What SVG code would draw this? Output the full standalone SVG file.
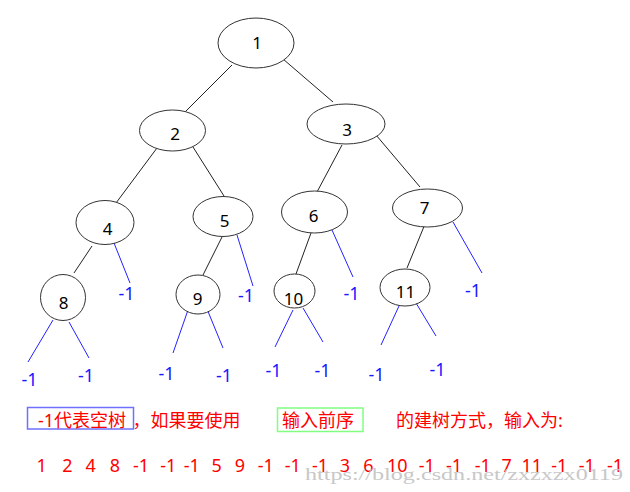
<svg xmlns="http://www.w3.org/2000/svg" width="630" height="492" viewBox="0 0 630 492">
<style>
.n ellipse{fill:#fff;stroke:#333;stroke-width:1}
.n text{font-family:"Noto Sans","DejaVu Sans",sans-serif;font-size:17px;fill:#000;text-anchor:middle}
.e line{stroke:#222;stroke-width:1}
.e line.b{stroke:#2222ff}
.nil{font-family:"Noto Sans","DejaVu Sans",sans-serif;font-size:18px;fill:#1a1aff;text-anchor:middle}
.red{font-family:"Noto Sans","Noto Sans CJK SC",sans-serif;font-size:18px;fill:#ff0000}
.seq{font-family:"Noto Sans","DejaVu Sans",sans-serif;font-size:18px;fill:#ff0000;text-anchor:middle}
.wm{font-family:"Liberation Serif",serif;font-size:17px;fill:#c8c8c8}
</style>
<rect width="630" height="492" fill="#fff"/>
<g id="connectors" class="e">
<line x1="232" y1="65" x2="185" y2="112"/>
<line x1="283" y1="59" x2="333" y2="102"/>
<line x1="157" y1="148" x2="116" y2="203"/>
<line x1="193" y1="147" x2="224" y2="196"/>
<line x1="342" y1="145" x2="317" y2="192"/>
<line x1="376" y1="135" x2="420" y2="187"/>
<line x1="92" y1="246" x2="74" y2="273"/>
<line class="b" x1="114" y1="243" x2="130" y2="283"/>
<line x1="222" y1="237" x2="203" y2="275"/>
<line class="b" x1="237" y1="235" x2="253" y2="286"/>
<line x1="311" y1="233" x2="296" y2="274"/>
<line class="b" x1="332" y1="230" x2="353" y2="277"/>
<line x1="425" y1="224" x2="407" y2="268"/>
<line class="b" x1="453" y1="222" x2="482" y2="273"/>
<line class="b" x1="53" y1="320" x2="28" y2="362"/>
<line class="b" x1="69" y1="322" x2="89" y2="358"/>
<line class="b" x1="188" y1="310" x2="173" y2="353"/>
<line class="b" x1="207" y1="309" x2="223" y2="348"/>
<line class="b" x1="293" y1="310" x2="275" y2="347"/>
<line class="b" x1="303" y1="308" x2="323" y2="342"/>
<line class="b" x1="399" y1="306" x2="381" y2="345"/>
<line class="b" x1="416" y1="303" x2="436" y2="336"/>
</g>
<g id="node1" class="n"><ellipse cx="256" cy="43" rx="38" ry="25"/><text x="257" y="48.5">1</text></g>
<g id="node2" class="n"><ellipse cx="172.5" cy="130.5" rx="33" ry="20.5"/><text x="175" y="140">2</text></g>
<g id="node3" class="n"><ellipse cx="346" cy="124" rx="39" ry="20"/><text x="347" y="136">3</text></g>
<g id="node4" class="n"><ellipse cx="105" cy="222.5" rx="29" ry="22"/><text x="107.5" y="235">4</text></g>
<g id="node5" class="n"><ellipse cx="223" cy="216.5" rx="30" ry="20"/><text x="224.5" y="226.5">5</text></g>
<g id="node6" class="n"><ellipse cx="314.5" cy="212" rx="33" ry="21"/><text x="313.5" y="221.5">6</text></g>
<g id="node7" class="n"><ellipse cx="427.5" cy="208" rx="35" ry="19"/><text x="424.5" y="214">7</text></g>
<g id="node8" class="n"><ellipse cx="63" cy="297.5" rx="22.5" ry="23"/><text x="63.5" y="309">8</text></g>
<g id="node9" class="n"><ellipse cx="198" cy="294.5" rx="22" ry="19.5"/><text x="197.5" y="305">9</text></g>
<g id="node10" class="n"><ellipse cx="294.5" cy="291" rx="20.5" ry="17"/><text x="293.5" y="304.5">10</text></g>
<g id="node11" class="n"><ellipse cx="405" cy="287.5" rx="25" ry="18.5"/><text x="405.5" y="298">11</text></g>
<g id="nil-labels">
<text class="nil" x="126.5" y="300">-1</text>
<text class="nil" x="246" y="301.5">-1</text>
<text class="nil" x="351.5" y="300">-1</text>
<text class="nil" x="473" y="297">-1</text>
<text class="nil" x="29.5" y="386">-1</text>
<text class="nil" x="86" y="381.5">-1</text>
<text class="nil" x="166.5" y="380">-1</text>
<text class="nil" x="224" y="381.5">-1</text>
<text class="nil" x="273.5" y="376.5">-1</text>
<text class="nil" x="322.5" y="376.5">-1</text>
<text class="nil" x="376.5" y="380.5">-1</text>
<text class="nil" x="437.5" y="376">-1</text>
</g>
<g id="caption">
<rect x="27.5" y="407.5" width="106" height="21.5" fill="none" stroke="#7070ff" stroke-width="1.5"/>
<rect x="277.5" y="408" width="85.5" height="23.5" fill="none" stroke="#80ff80" stroke-width="1.5"/>
<text class="red" x="38" y="426.5">-1代表空树</text>
<text class="red" x="132.5" y="426.5">，如果要使用</text>
<text class="red" x="282" y="427">输入前序</text>
<text class="red" x="396" y="426.5">的建树方式，输入为:</text>
</g>
<g id="sequence">
<text class="seq" x="41.7" y="472">1</text>
<text class="seq" x="67.3" y="472">2</text>
<text class="seq" x="90.7" y="472">4</text>
<text class="seq" x="115" y="472">8</text>
<text class="seq" x="141" y="472">-1</text>
<text class="seq" x="168.3" y="472">-1</text>
<text class="seq" x="191.7" y="472">-1</text>
<text class="seq" x="216.7" y="472">5</text>
<text class="seq" x="240" y="472">9</text>
<text class="seq" x="265.7" y="472">-1</text>
<text class="seq" x="292.7" y="472">-1</text>
<text class="seq" x="320" y="472">-1</text>
<text class="seq" x="345" y="472">3</text>
<text class="seq" x="368.3" y="472">6</text>
<text class="seq" x="397.3" y="472">10</text>
<text class="seq" x="426.7" y="472">-1</text>
<text class="seq" x="454" y="472">-1</text>
<text class="seq" x="482.7" y="472">-1</text>
<text class="seq" x="506.7" y="472">7</text>
<text class="seq" x="531.7" y="472">11</text>
<text class="seq" x="559.3" y="472">-1</text>
<text class="seq" x="586.7" y="472">-1</text>
<text class="seq" x="615" y="472">-1</text>
</g>
<text class="wm" x="305" y="480" textLength="318" lengthAdjust="spacingAndGlyphs">https://blog.csdn.net/zxzxzx0119</text>
</svg>
